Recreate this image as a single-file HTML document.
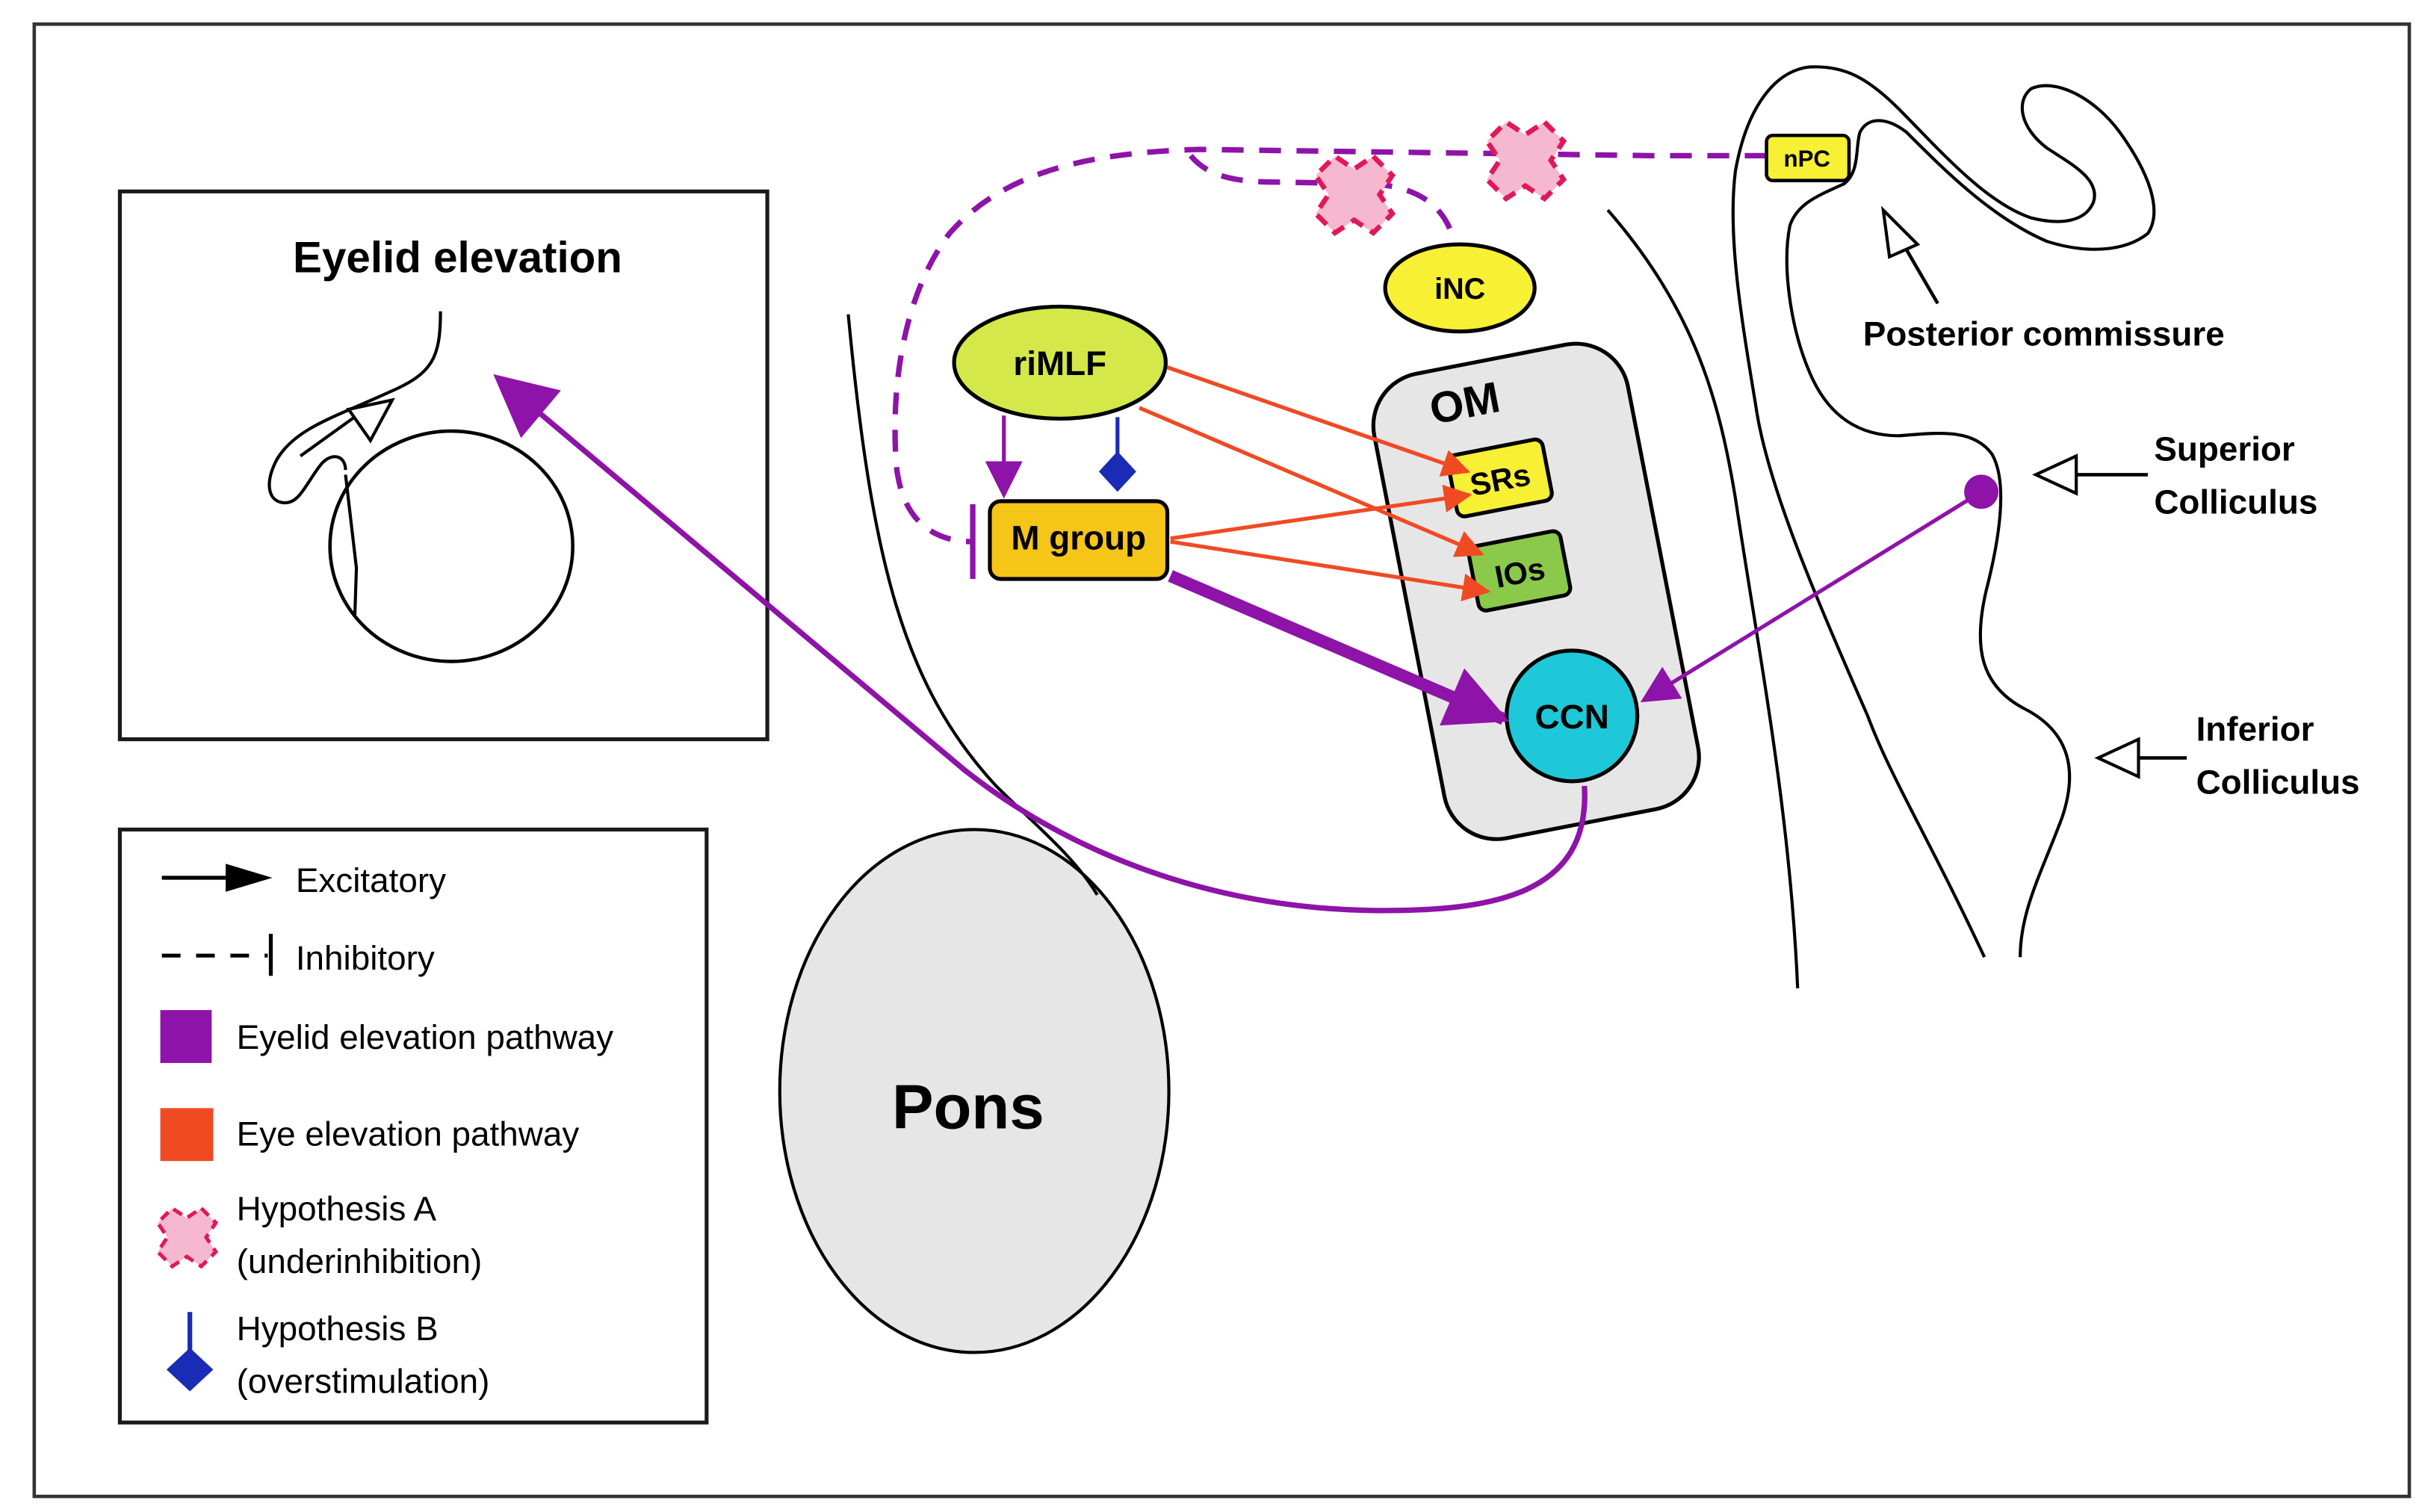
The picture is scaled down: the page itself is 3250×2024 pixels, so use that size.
<!DOCTYPE html>
<html><head><meta charset="utf-8"><style>
html,body{margin:0;padding:0;background:#fff;}
svg{display:block;}
text{font-family:"Liberation Sans",sans-serif;}
</style></head><body>
<svg width="3250" height="2024" viewBox="0 0 1560 971.5" xmlns="http://www.w3.org/2000/svg">
<defs>
<marker id="apb" viewBox="0 0 10 10" refX="9" refY="5" markerWidth="48" markerHeight="40" orient="auto" markerUnits="userSpaceOnUse"><path d="M0,0 L10,5 L0,10 Z" fill="#8e13a8"/></marker>
<marker id="apm" viewBox="0 0 10 10" refX="9" refY="5" markerWidth="28" markerHeight="24" orient="auto" markerUnits="userSpaceOnUse"><path d="M0,0 L10,5 L0,10 Z" fill="#8e13a8"/></marker>
<marker id="ar" viewBox="0 0 10 10" refX="9" refY="5" markerWidth="24" markerHeight="18" orient="auto" markerUnits="userSpaceOnUse"><path d="M0,0 L10,5 L0,10 Z" fill="#f04a23"/></marker>
<g id="px"><path d="M-6,-18 L6,-18 L8,-8 L18,-6 L18,6 L8,8 L6,18 L-6,18 L-8,8 L-18,6 L-18,-6 L-8,-8 Z" transform="rotate(45)" fill="#f5b8cf" stroke="#e0185a" stroke-width="2.2" stroke-dasharray="6,4"/></g>
</defs>
<rect x="0" y="0" width="1560" height="971.5" fill="#fff"/>
<rect x="22" y="15.5" width="1526" height="946" fill="none" stroke="#333" stroke-width="2.2"/>

<!-- Eyelid box -->
<rect x="77" y="123" width="416" height="352" fill="none" stroke="#1a1a1a" stroke-width="2.5"/>
<text x="294" y="175" font-size="28" font-weight="bold" text-anchor="middle">Eyelid elevation</text>
<path d="M283,200 C283,230 278,240 250,252 C215,268 190,275 178,295 C170,310 172,322 182,323 C192,324 196,312 205,300 C212,290 222,292 222,302" fill="none" stroke="#000" stroke-width="2"/>
<ellipse cx="290" cy="351" rx="78" ry="74" fill="none" stroke="#000" stroke-width="2.2"/>
<path d="M222,305 L229,365 L228,395" fill="none" stroke="#000" stroke-width="2"/>
<line x1="193" y1="293" x2="232" y2="265" stroke="#000" stroke-width="2"/>
<path d="M224,263 L252,257 L238,283 Z" fill="#fff" stroke="#000" stroke-width="2"/>

<!-- Legend -->
<rect x="77" y="533" width="377" height="381" fill="none" stroke="#1a1a1a" stroke-width="2.5"/>
<line x1="104" y1="564" x2="150" y2="564" stroke="#000" stroke-width="2.5"/>
<path d="M145,555 L175,564 L145,573 Z" fill="#000"/>
<text x="190" y="573" font-size="22">Excitatory</text>
<line x1="104" y1="614" x2="172" y2="614" stroke="#000" stroke-width="2.5" stroke-dasharray="12,10"/>
<line x1="174" y1="600" x2="174" y2="627" stroke="#000" stroke-width="2.5"/>
<text x="190" y="623" font-size="22">Inhibitory</text>
<rect x="103" y="649" width="33" height="34" fill="#8e13a8"/>
<text x="152" y="674" font-size="22">Eyelid elevation pathway</text>
<rect x="103" y="712" width="34" height="34" fill="#f04a23"/>
<text x="152" y="736" font-size="22">Eye elevation pathway</text>
<use href="#px" transform="translate(120,795) scale(1.1)"/>
<text x="152" y="784" font-size="22">Hypothesis A</text>
<text x="152" y="818" font-size="22">(underinhibition)</text>
<line x1="122" y1="843" x2="122" y2="870" stroke="#1a2bb5" stroke-width="3"/>
<path d="M122,866 L137,880 L122,894 L107,880 Z" fill="#1a2bb5"/>
<text x="152" y="861" font-size="22">Hypothesis B</text>
<text x="152" y="895" font-size="22">(overstimulation)</text>

<!-- Pons -->
<ellipse cx="626" cy="701" rx="125" ry="168" fill="#e6e6e6" stroke="#000" stroke-width="2"/>
<text x="622" y="725" font-size="40" font-weight="bold" text-anchor="middle">Pons</text>
<path d="M545,202 C560,360 580,440 640,505 C665,530 690,550 705,575" fill="none" stroke="#000" stroke-width="2"/>

<!-- right contours -->
<path d="M1033,135 C1090,200 1105,260 1115,320 C1130,420 1150,520 1155,635" fill="none" stroke="#000" stroke-width="2"/>
<path d="M1275,615 C1240,540 1215,500 1200,460 C1165,380 1135,310 1128,260 C1118,200 1110,150 1115,110 C1122,70 1140,45 1163,43 C1185,42 1200,50 1220,70 C1245,95 1275,130 1305,140 C1325,145 1340,142 1345,130 C1350,115 1330,105 1315,95 C1298,82 1295,65 1305,57 C1320,50 1345,62 1362,85 C1380,110 1390,135 1380,150 C1365,162 1340,163 1315,155 C1280,140 1250,110 1225,85 C1212,75 1200,75 1195,85 C1192,95 1195,110 1185,118 C1170,125 1155,130 1150,145 C1145,170 1150,210 1163,240 C1175,268 1195,280 1220,280 C1245,278 1268,275 1280,292 C1290,310 1285,345 1276,380 C1268,415 1272,440 1300,455 C1330,470 1335,495 1325,525 C1312,560 1298,585 1298,615" fill="none" stroke="#000" stroke-width="2"/>

<!-- labels right -->
<line x1="1245" y1="195" x2="1220" y2="152" stroke="#000" stroke-width="2.2"/>
<path d="M1210,135 L1232,157 L1214,165 Z" fill="#fff" stroke="#000" stroke-width="2"/>
<text x="1197" y="222" font-size="22" font-weight="bold">Posterior commissure</text>
<line x1="1333" y1="305" x2="1380" y2="305" stroke="#000" stroke-width="2.2"/>
<path d="M1308,305 L1334,293 L1334,317 Z" fill="#fff" stroke="#000" stroke-width="2"/>
<text x="1384" y="296" font-size="22" font-weight="bold">Superior</text>
<text x="1384" y="330" font-size="22" font-weight="bold">Colliculus</text>
<line x1="1373" y1="487" x2="1405" y2="487" stroke="#000" stroke-width="2.2"/>
<path d="M1348,487 L1374,475 L1374,499 Z" fill="#fff" stroke="#000" stroke-width="2"/>
<text x="1411" y="476" font-size="22" font-weight="bold">Inferior</text>
<text x="1411" y="510" font-size="22" font-weight="bold">Colliculus</text>

<!-- dashed inhibitory -->
<path d="M1135,100 L1060,100 L770,96 C700,98 645,110 610,150 C580,190 572,250 576,300 C580,335 600,348 625,348" fill="none" stroke="#8e13a8" stroke-width="3.5" stroke-dasharray="14,10"/>
<path d="M765,100 C775,112 790,117 820,117 L880,118 C915,120 930,135 935,158" fill="none" stroke="#8e13a8" stroke-width="3.5" stroke-dasharray="14,10"/>
<line x1="625" y1="324" x2="625" y2="372" stroke="#8e13a8" stroke-width="3.5"/>
<use href="#px" transform="translate(870,125) scale(1.45)"/>
<use href="#px" transform="translate(980,103) scale(1.45)"/>

<!-- OM -->
<g transform="translate(987,380) rotate(-11)">
<rect x="-83" y="-152" width="166" height="304" rx="34" fill="#e6e6e6" stroke="#000" stroke-width="2.5"/>
<text x="-22" y="-118" font-size="28" font-weight="bold" text-anchor="middle">OM</text>
<rect x="-40" y="-96" width="62" height="40" rx="5" fill="#f7f034" stroke="#000" stroke-width="2.5"/>
<text x="-9" y="-68" font-size="20" font-weight="bold" text-anchor="middle">SRs</text>
<rect x="-38" y="-36" width="60" height="42" rx="5" fill="#8bc94a" stroke="#000" stroke-width="2.5"/>
<text x="-8" y="-7" font-size="20" font-weight="bold" text-anchor="middle">IOs</text>
</g>

<!-- iNC, nPC -->
<ellipse cx="938" cy="185" rx="48" ry="28" fill="#f7f034" stroke="#000" stroke-width="2.5"/>
<text x="938" y="192" font-size="19" font-weight="bold" text-anchor="middle">iNC</text>
<rect x="1135" y="87" width="53" height="29" rx="4" fill="#f7f034" stroke="#000" stroke-width="2.2"/>
<text x="1161" y="107" font-size="15" font-weight="bold" text-anchor="middle">nPC</text>

<!-- riMLF and M group -->
<ellipse cx="681" cy="233" rx="68" ry="36" fill="#d4e84a" stroke="#000" stroke-width="2.5"/>
<text x="681" y="241" font-size="22" font-weight="bold" text-anchor="middle">riMLF</text>
<rect x="636" y="322" width="114" height="50" rx="7" fill="#f5c518" stroke="#000" stroke-width="2.5"/>
<text x="693" y="353" font-size="22" font-weight="bold" text-anchor="middle">M group</text>
<line x1="645" y1="267" x2="645" y2="318" stroke="#8e13a8" stroke-width="2.5" marker-end="url(#apm)"/>
<line x1="718" y1="268" x2="718" y2="292" stroke="#1a2bb5" stroke-width="2.5"/>
<path d="M718,290 L730,303 L718,316 L706,303 Z" fill="#1a2bb5"/>

<!-- red arrows -->
<line x1="750" y1="236" x2="943" y2="303" stroke="#f04a23" stroke-width="2.5" marker-end="url(#ar)"/>
<line x1="732" y1="262" x2="952" y2="356" stroke="#f04a23" stroke-width="2.5" marker-end="url(#ar)"/>
<line x1="752" y1="346" x2="944" y2="318" stroke="#f04a23" stroke-width="2.5" marker-end="url(#ar)"/>
<line x1="752" y1="348" x2="956" y2="380" stroke="#f04a23" stroke-width="2.5" marker-end="url(#ar)"/>

<!-- CCN -->
<circle cx="1010" cy="460" r="42" fill="#1ec8d8" stroke="#000" stroke-width="2.5"/>
<text x="1010" y="468" font-size="22" font-weight="bold" text-anchor="middle">CCN</text>
<line x1="752" y1="370" x2="966" y2="462" stroke="#8e13a8" stroke-width="8" marker-end="url(#apb)"/>
<circle cx="1273" cy="316" r="11" fill="#8e13a8"/>
<line x1="1273" y1="316" x2="1056" y2="450" stroke="#8e13a8" stroke-width="2.5" marker-end="url(#apm)"/>
<path d="M1018,505 C1022,575 960,586 880,585 C780,583 690,550 620,495 L320,243" fill="none" stroke="#8e13a8" stroke-width="3.5" marker-end="url(#apb)"/>
</svg>
</body></html>
